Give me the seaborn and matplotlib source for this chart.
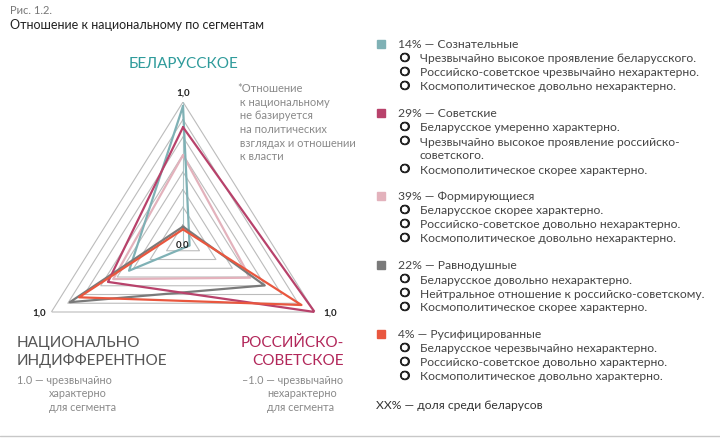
import numpy as np
import pandas as pd
import matplotlib.pyplot as plt
import matplotlib.patheffects as pe
import seaborn as sns

sns.set_theme(style="white")
plt.rcParams['font.family'] = ['Lato', 'DejaVu Sans']

# axes of the radar: top, bottom-right, bottom-left
axes_names = ['Беларусское', 'Российско-советское', 'Национально индифферентное']

# segment values on each axis (0 = centre, 1 = vertex)
soznatelnye = [0.97, 0.05, 0.41]
sovetskie = [0.82, 1.00, 0.57]
formiruyushchiesya = [0.62, 0.51, 0.53]
ravnodushnye = [0.11, 0.62, 0.86]
rusificirovannye = [0.09, 0.90, 0.79]

segments = ['Сознательные', 'Советские', 'Формирующиеся', 'Равнодушные', 'Русифицированные']
shares = ['14%', '29%', '39%', '22%', '4%']
colors = ['#7fb1b5', '#b8426b', '#e3b2bc', '#7a7a7a', '#e9573f']
descriptions = [
    ['Чрезвычайно высокое проявление беларусского.',
     'Российско-советское чрезвычайно нехарактерно.',
     'Космополитическое довольно нехарактерно.'],
    ['Беларусское умеренно характерно.',
     'Чрезвычайно высокое проявление российско-\nсоветского.',
     'Космополитическое скорее характерно.'],
    ['Беларусское скорее характерно.',
     'Российско-советское довольно нехарактерно.',
     'Космополитическое довольно нехарактерно.'],
    ['Беларусское довольно нехарактерно.',
     'Нейтральное отношение к российско-советскому.',
     'Космополитическое скорее характерно.'],
    ['Беларусское черезвычайно нехарактерно.',
     'Российско-советское довольно характерно.',
     'Космополитическое довольно характерно.'],
]
grid_levels = np.arange(1, 9) / 8

values = [soznatelnye, sovetskie, formiruyushchiesya, ravnodushnye, rusificirovannye]
theta = np.linspace(0, 2 * np.pi, len(axes_names) + 1)

rows = []
for seg, vals in zip(segments, values):
    closed = list(vals) + [vals[0]]
    for i, (t, v) in enumerate(zip(theta, closed)):
        rows.append({'segment': seg, 'theta': t, 'r': v, 'order': i})
df = pd.DataFrame(rows)

W, H = 720, 439
fig = plt.figure(figsize=(W / 100, H / 100), dpi=100)


def px(x, y):
    return x / W, 1 - y / H


# radar axes (stretched polar)
ax = fig.add_axes([31 / W, (H - 383) / H, 304 / W, 280 / H], projection='polar')
ax.set_aspect('auto')
ax.set_theta_offset(np.pi / 2)
ax.set_theta_direction(-1)
ax.set_ylim(0, 1)
ax.grid(False)
ax.set_xticks([])
ax.set_yticks([])
ax.spines['polar'].set_visible(False)
ax.patch.set_alpha(0)

for lv in grid_levels:
    ax.plot(theta, [lv] * len(theta), color='#bcbcbc', lw=0.8, zorder=1)
ax.plot([0, 0], [0, 1], color='#a9c4c6', lw=0.8, zorder=1)

draw_order = ['Формирующиеся', 'Сознательные', 'Равнодушные', 'Советские', 'Русифицированные']
for seg in draw_order:
    sub = df[df['segment'] == seg]
    sns.lineplot(data=sub, x='theta', y='r', sort=False, estimator=None,
                 color=colors[segments.index(seg)], lw=1.6, ax=ax, zorder=3)
ax.set_xlabel('')
ax.set_ylabel('')

tick_kw = dict(fontsize=7, fontweight='bold', color='#222222')
ax.annotate('1,0', (theta[0], 1), xytext=(0, 4), textcoords='offset points',
            ha='center', va='bottom', **tick_kw)
ax.annotate('1,0', (theta[1], 1), xytext=(6, 0), textcoords='offset points',
            ha='left', va='center', **tick_kw)
ax.annotate('1,0', (theta[2], 1), xytext=(-4, 0), textcoords='offset points',
            ha='right', va='center', **tick_kw)
ax.annotate('0.0', (0, 0), xytext=(0, -2), textcoords='offset points',
            ha='center', va='center', **tick_kw)

# header
fig.text(*px(10, 10), 'Рис. 1.2.', fontsize=8, color='#777777', va='center')
fig.text(*px(10, 25), 'Отношение к национальному по сегментам', fontsize=9,
         color='#222222', va='center')

# axis titles
fig.text(*px(184, 64), 'БЕЛАРУССКОЕ', fontsize=11, color='#2f9b9b',
         ha='center', va='center')
fig.text(*px(17, 352), 'НАЦИОНАЛЬНО\nИНДИФФЕРЕНТНОЕ', fontsize=11, color='#555555',
         ha='left', va='center', linespacing=1.35)
fig.text(*px(344, 352), 'РОССИЙСКО-\nСОВЕТСКОЕ', fontsize=11, color='#b2275a',
         ha='right', va='center', linespacing=1.35, multialignment='right')

grey = '#8a8a8a'
note_lines = [
    (17, 381, 'left', '1.0 — чрезвычайно'),
    (49, 394, 'left', 'характерно'),
    (49, 408, 'left', 'для сегмента'),
    (343, 381, 'right', '–1.0 — чрезвычайно'),
    (267, 394, 'left', 'нехарактерно'),
    (267, 408, 'left', 'для сегмента'),
]
for x, y, ha, s in note_lines:
    fig.text(*px(x, y), s, fontsize=7.8, color=grey, va='center', ha=ha)

fig.text(*px(237, 83), '*Отношение\n к национальному\n не базируется\n на политических\n'
         ' взглядах и отношении\n к власти', fontsize=8, color=grey, va='top',
         linespacing=1.3)

# legend
bullet_fx = [pe.withStroke(linewidth=0.9, foreground='#222222')]
y = 45
for seg, share, col, desc in zip(segments, shares, colors, descriptions):
    fig.patches.append(plt.Rectangle(px(377, y + 4), 8 / W, 8 / H, color=col,
                                     transform=fig.transFigure, figure=fig))
    fig.text(*px(398, y), f'{share} — {seg}', fontsize=8.7, color='#444444', va='center')
    y += 14
    for d in desc:
        fig.text(*px(400, y), '❍', fontsize=8, color='#222222', va='center',
                 path_effects=bullet_fx)
        for line in d.split('\n'):
            fig.text(*px(420, y), line, fontsize=8.7, color='#444444', va='center')
            y += 14
    y += 13
fig.text(*px(376, 406), 'XX% — доля среди беларусов', fontsize=8.7, color='#333333', va='center')

fig.add_artist(plt.Line2D([0, 1], [1 - 437 / H] * 2, color='#c8c8c8', lw=1,
                          transform=fig.transFigure))

fig.savefig('out.png', dpi=100)
